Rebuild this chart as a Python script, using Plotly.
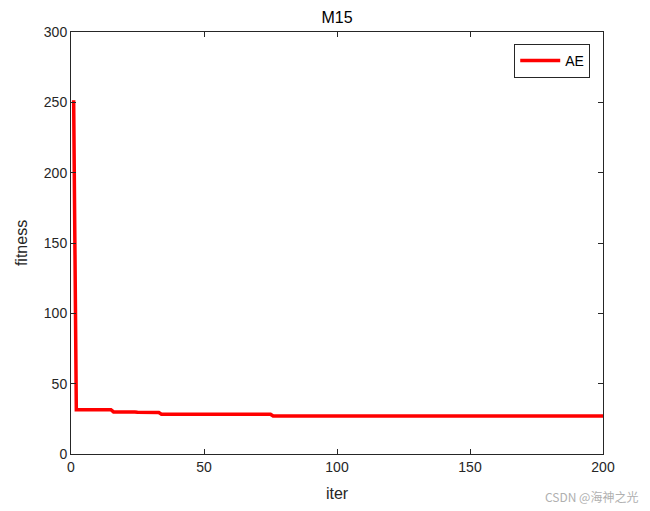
import plotly.graph_objs as go

# convergence curve (iteration, best fitness)
iters = [1, 2, 15, 16, 24, 25, 33, 34, 75, 76, 200]
fitness = [251.5, 31.5, 31.5, 29.9, 29.8, 29.6, 29.5, 28.3, 28.3, 27.0, 27.0]

x_ticks = [0, 50, 100, 150, 200]
y_ticks = [0, 50, 100, 150, 200, 250, 300]

axis_color = "#262626"
font_family = "Liberation Sans, Arial, sans-serif"

# the page body adds an 8px offset, so margins are shifted by that amount
left, top, plot_w, plot_h = 63, 24, 532, 422

fig = go.Figure()
fig.add_trace(
    go.Scatter(
        x=iters,
        y=fitness,
        mode="lines",
        line={"color": "#ff0000", "width": 3.5},
        name="AE",
    )
)

axis_common = dict(
    showgrid=False,
    zeroline=False,
    showline=True,
    linecolor=axis_color,
    linewidth=1,
    mirror="ticks",
    ticks="inside",
    ticklen=5,
    tickcolor=axis_color,
    tickfont={"size": 14, "color": axis_color, "family": font_family},
    title_font={"size": 16, "color": axis_color, "family": font_family},
)

fig.update_xaxes(range=[0, 200], tickvals=x_ticks, title_text="iter", title_standoff=14, **axis_common)
fig.update_yaxes(range=[0, 300], tickvals=y_ticks, title_text="fitness", title_standoff=12, **axis_common)

fig.update_layout(
    width=650,
    height=511,
    margin={"l": left, "r": 650 - left - plot_w, "t": top, "b": 511 - top - plot_h},
    paper_bgcolor="white",
    plot_bgcolor="white",
    font={"family": font_family, "color": axis_color},
    title={
        "text": "M15",
        "x": (left + plot_w / 2) / 650,
        "xanchor": "center",
        "y": 1 - 9 / 511,
        "yanchor": "middle",
        "font": {"size": 16, "color": "black", "family": font_family},
    },
    showlegend=True,
    legend={
        "x": 0.976,
        "y": 0.972,
        "xanchor": "right",
        "yanchor": "top",
        "bordercolor": axis_color,
        "borderwidth": 1,
        "bgcolor": "white",
        "font": {"size": 14, "color": "black", "family": font_family},
        "itemwidth": 40,
        "tracegroupgap": 0,
    },
)

fig.add_annotation(
    text="CSDN @海神之光",
    xref="paper",
    yref="paper",
    x=(632 - left) / plot_w,
    y=-(489 - (top + plot_h)) / plot_h,
    xanchor="right",
    yanchor="middle",
    showarrow=False,
    font={"size": 12, "color": "#b0b0b0", "family": "Noto Sans CJK SC, sans-serif"},
)

fig.write_html("out.html")
